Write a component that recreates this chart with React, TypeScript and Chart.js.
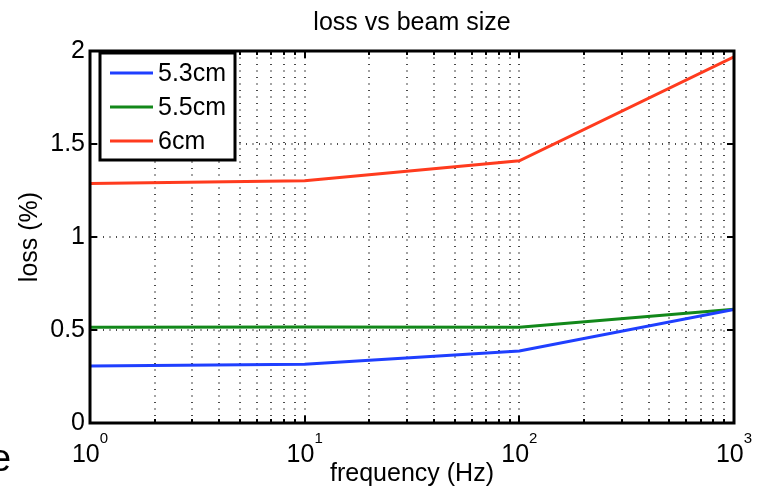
import { useEffect, useRef } from "react";
import { Chart, registerables } from "chart.js";

Chart.register(...registerables);

// ---- data ----
const frequencies = [1, 10, 100, 1000];
const loss53 = [0.307, 0.316, 0.387, 0.61];
const loss55 = [0.515, 0.516, 0.515, 0.611];
const loss6 = [1.288, 1.303, 1.41, 1.968];
const seriesLabels = ["5.3cm", "5.5cm", "6cm"];
const seriesColors = ["#1f3fff", "#12881a", "#ff3b1e"];
const yTickValues = [0, 0.5, 1, 1.5, 2];
const xDecadeTicks = [1, 10, 100, 1000];
const xDecadeExponents = ["0", "1", "2", "3"];
const xMinorTicks = [
  2, 3, 4, 5, 6, 7, 8, 9, 20, 30, 40, 50, 60, 70, 80, 90, 200, 300, 400, 500,
  600, 700, 800, 900,
];
const titleText = "loss vs beam size";
const xTitle = "frequency (Hz)";
const yTitle = "loss (%)";

const FONT = "'Liberation Sans', Arial, Helvetica, sans-serif";

const matlabPlugin = {
  id: "matlabStyle",
  beforeDatasetsDraw(chart: any) {
    const { ctx, chartArea: a, scales } = chart;
    const xs = scales.x;
    const ys = scales.y;
    ctx.save();
    ctx.strokeStyle = "#4a4a4a";
    ctx.lineWidth = 2;
    ctx.setLineDash([1, 5.5]);
    for (const v of [...xMinorTicks, 10, 100]) {
      const px = Math.round(xs.getPixelForValue(v));
      ctx.beginPath();
      ctx.moveTo(px, a.top);
      ctx.lineTo(px, a.bottom);
      ctx.stroke();
    }
    for (const v of yTickValues.slice(1, -1)) {
      const py = Math.round(ys.getPixelForValue(v));
      ctx.beginPath();
      ctx.moveTo(a.left, py);
      ctx.lineTo(a.right, py);
      ctx.stroke();
    }
    ctx.restore();
  },
  afterDatasetsDraw(chart: any) {
    const { ctx, chartArea: a, scales } = chart;
    const xs = scales.x;
    const ys = scales.y;
    ctx.save();
    ctx.setLineDash([]);
    // ticks
    ctx.strokeStyle = "#000";
    ctx.lineWidth = 2;
    const tickMark = (x1: number, y1: number, x2: number, y2: number) => {
      ctx.beginPath();
      ctx.moveTo(x1, y1);
      ctx.lineTo(x2, y2);
      ctx.stroke();
    };
    for (const v of xMinorTicks) {
      const px = Math.round(xs.getPixelForValue(v));
      tickMark(px, a.bottom, px, a.bottom - 4);
      tickMark(px, a.top, px, a.top + 4);
    }
    for (const v of xDecadeTicks) {
      const px = Math.round(xs.getPixelForValue(v));
      tickMark(px, a.bottom, px, a.bottom - 7);
      tickMark(px, a.top, px, a.top + 7);
    }
    for (const v of yTickValues) {
      const py = Math.round(ys.getPixelForValue(v));
      tickMark(a.left, py, a.left + 7, py);
      tickMark(a.right, py, a.right - 7, py);
    }
    // frame
    ctx.lineWidth = 3;
    ctx.strokeRect(a.left, a.top, a.right - a.left, a.bottom - a.top);

    // x tick labels with superscript exponents
    ctx.fillStyle = "#000";
    ctx.textBaseline = "alphabetic";
    ctx.textAlign = "left";
    xDecadeTicks.forEach((v, i) => {
      const px = xs.getPixelForValue(v);
      ctx.font = `25px ${FONT}`;
      const wBase = ctx.measureText("10").width;
      ctx.font = `15px ${FONT}`;
      const wExp = ctx.measureText(xDecadeExponents[i]).width;
      const start = px - (wBase + wExp) / 2;
      ctx.font = `25px ${FONT}`;
      ctx.fillText("10", start, a.bottom + 39);
      ctx.font = `15px ${FONT}`;
      ctx.fillText(xDecadeExponents[i], start + wBase, a.bottom + 20);
    });

    // legend
    const lx = a.left + 10;
    const ly = a.top + 2;
    const lw = 135;
    const lh = 107;
    ctx.fillStyle = "#fff";
    ctx.fillRect(lx, ly, lw, lh);
    ctx.lineWidth = 3;
    ctx.strokeStyle = "#000";
    ctx.strokeRect(lx, ly, lw, lh);
    seriesLabels.forEach((label, i) => {
      const cy = ly + 20 + i * 34;
      ctx.strokeStyle = seriesColors[i];
      ctx.lineWidth = 3;
      ctx.beginPath();
      ctx.moveTo(lx + 10, cy);
      ctx.lineTo(lx + 53, cy);
      ctx.stroke();
      ctx.fillStyle = "#000";
      ctx.font = `25px ${FONT}`;
      ctx.textBaseline = "middle";
      ctx.fillText(label, lx + 58, cy + 1);
    });

    // clipped stray glyph at the left edge of the image
    ctx.fillStyle = "#000";
    ctx.textBaseline = "alphabetic";
    ctx.font = `38px ${FONT}`;
    ctx.fillText("e", -10, 471);
    ctx.restore();
  },
};

export default function App() {
  const canvasRef = useRef<HTMLCanvasElement | null>(null);

  useEffect(() => {
    const canvas = canvasRef.current;
    if (!canvas) return;
    const chart = new Chart(canvas, {
      type: "line",
      data: {
        datasets: [loss53, loss55, loss6].map((vals, i) => ({
          label: seriesLabels[i],
          data: frequencies.map((f, j) => ({ x: f, y: vals[j] })),
          borderColor: seriesColors[i],
          backgroundColor: seriesColors[i],
          borderWidth: 3,
          pointRadius: 0,
          tension: 0,
          fill: false,
        })),
      },
      options: {
        animation: false,
        responsive: false,
        devicePixelRatio: 1,
        layout: { padding: { left: 0, right: 23, top: 0, bottom: 0 } },
        plugins: {
          legend: { display: false },
          tooltip: { enabled: false },
          title: {
            display: true,
            text: titleText,
            fullSize: false,
            color: "#000",
            font: { family: FONT, size: 25, weight: "normal", lineHeight: 1.2 },
            padding: { top: 8, bottom: 13 },
          },
        },
        scales: {
          x: {
            type: "logarithmic",
            min: 1,
            max: 1000,
            grid: { display: false, drawTicks: false },
            border: { display: false },
            ticks: { display: false },
            title: {
              display: true,
              text: xTitle,
              color: "#000",
              font: { family: FONT, size: 25, lineHeight: 1.2 },
              padding: { top: 0, bottom: 3 },
            },
            afterFit: (scale: any) => {
              scale.height = 69;
            },
          },
          y: {
            type: "linear",
            min: 0,
            max: 2,
            grid: { display: false, drawTicks: false },
            border: { display: false },
            afterBuildTicks: (scale: any) => {
              scale.ticks = yTickValues.map((v) => ({ value: v }));
            },
            ticks: {
              color: "#000",
              padding: 5,
              font: { family: FONT, size: 25 },
              callback: (v: any) => String(v),
            },
            title: {
              display: true,
              text: yTitle,
              color: "#000",
              font: { family: FONT, size: 25, lineHeight: 1.2 },
              padding: { top: 15, bottom: 0 },
            },
            afterFit: (scale: any) => {
              scale.width = 90;
            },
          },
        },
      } as any,
      plugins: [matlabPlugin],
    });
    return () => chart.destroy();
  }, []);

  return (
    <div style={{ position: "absolute", left: 0, top: 0, width: 757, height: 492, background: "#fff" }}>
      <canvas ref={canvasRef} width={757} height={492} style={{ display: "block" }} />
    </div>
  );
}
